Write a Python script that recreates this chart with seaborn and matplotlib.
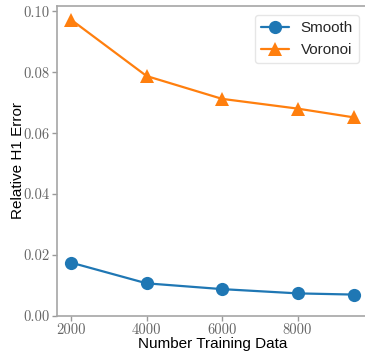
import matplotlib
matplotlib.use("Agg")
import matplotlib.pyplot as plt
import pandas as pd
import seaborn as sns

# values
n_train = [2000, 4000, 6000, 8000, 9500]
smooth_err = [0.0175, 0.0107, 0.0088, 0.0074, 0.0070]
voronoi_err = [0.0973, 0.0788, 0.0713, 0.0681, 0.0652]

df = pd.DataFrame({
    "Number Training Data": n_train * 2,
    "Relative H1 Error": smooth_err + voronoi_err,
    "method": ["Smooth"] * len(n_train) + ["Voronoi"] * len(n_train),
})

sns.set_style("ticks")
plt.rcParams["font.family"] = ["Liberation Sans", "DejaVu Sans"]

fig = plt.figure(figsize=(3.65, 3.51), dpi=100)
ax = fig.add_axes([0.156, 0.1, 0.853, 0.883])

sns.lineplot(data=df, x="Number Training Data", y="Relative H1 Error",
             hue="method", style="method", markers=["o", "^"], dashes=False,
             palette=["#1f77b4", "#ff7f0e"], markersize=9.5, linewidth=1.6,
             markeredgewidth=0, ax=ax)

ax.set_ylim(bottom=0)
ax.set_xticks([2000, 4000, 6000, 8000])
ax.set_yticks([0.00, 0.02, 0.04, 0.06, 0.08, 0.10])
ax.set_yticklabels(["0.00", "0.02", "0.04", "0.06", "0.08", "0.10"])
ax.set_xlabel("Number Training Data", fontsize=11, color="black")
ax.set_ylabel("Relative H1 Error", fontsize=11, color="black")
ax.xaxis.set_label_coords(0.5, -0.068)
ax.yaxis.set_label_coords(-0.103, 0.5)

for lab in ax.get_xticklabels() + ax.get_yticklabels():
    lab.set_fontfamily("cmr10")
    lab.set_fontsize(10.5)

for side in ["left", "bottom", "top"]:
    ax.spines[side].set_color("0.65")
    ax.spines[side].set_linewidth(1.2)
ax.spines["right"].set_visible(False)
ax.tick_params(colors="0.6", labelcolor="0.4", length=3.5, width=1, pad=2)

leg = ax.legend(loc="upper right", fontsize=11, frameon=True,
                borderaxespad=0.6, handlelength=1.8, handletextpad=0.8)
leg.get_frame().set_edgecolor("0.88")

fig.savefig("out.png", dpi=100)
